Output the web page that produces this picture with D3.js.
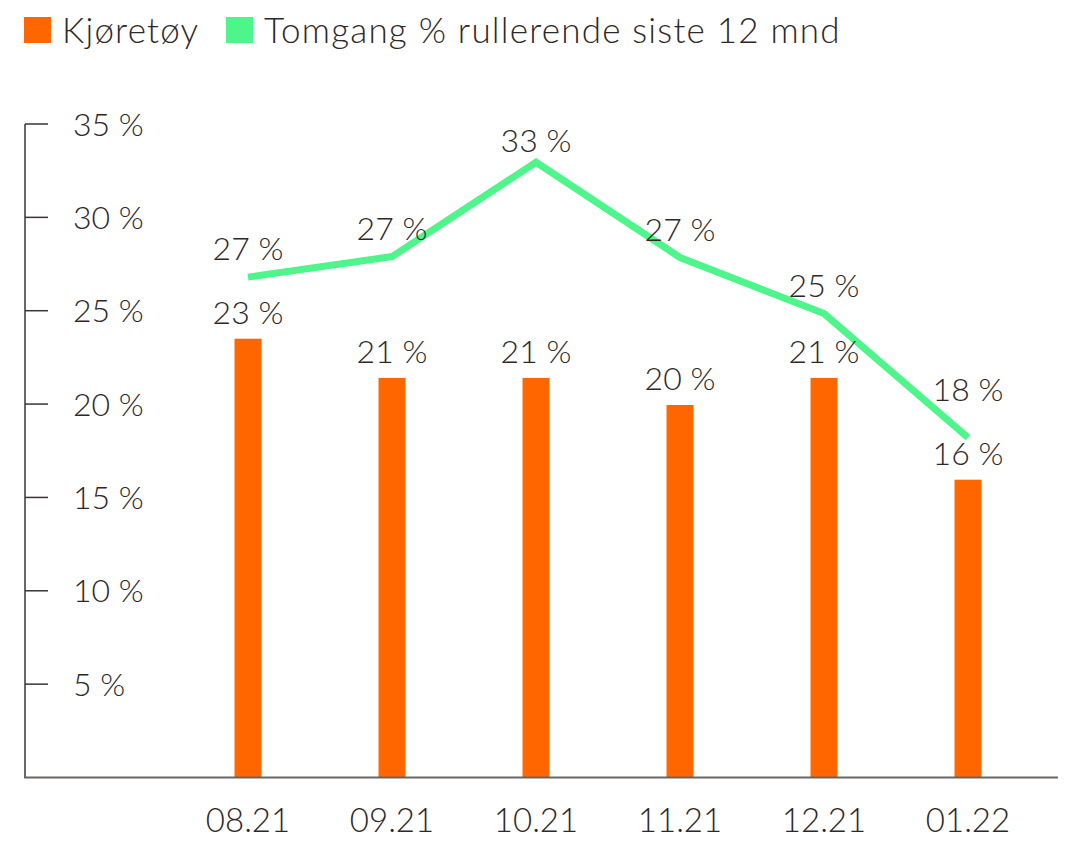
<!DOCTYPE html>
<html>
<head>
<meta charset="utf-8">
<script src="https://cdn.jsdelivr.net/npm/d3@7"></script>
<style>
  body { margin: 0; background: #fff; }
  text { font-family: Lato, "Open Sans", sans-serif; fill: #2d2828; }
</style>
</head>
<body>
<div id="chart"></div>
<script>
// ----- Data -----
const months = ["08.21", "09.21", "10.21", "11.21", "12.21", "01.22"];
const vehicles = [23.5, 21.4, 21.4, 19.95, 21.4, 15.95];
const vehicleLabels = ["23 %", "21 %", "21 %", "20 %", "21 %", "16 %"];
const idle = [26.8, 27.9, 32.95, 27.85, 24.85, 18.2];
const idleLabels = ["27 %", "27 %", "33 %", "27 %", "25 %", "18 %"];
const yTicks = [5, 10, 15, 20, 25, 30, 35];
const seriesNames = ["Kjøretøy", "Tomgang % rullerende siste 12 mnd"];

// ----- Config -----
const width = 1075;
const height = 843;
const orange = "#ff6600";
const green = "#4ef58b";

const svg = d3.select("#chart")
  .append("svg")
  .attr("width", width)
  .attr("height", height);

const x = d3.scalePoint()
  .domain(months)
  .range([248, 968]);

const y = d3.scaleLinear()
  .domain([0, 35])
  .range([777.5, 124]);

// ----- Axes -----
svg.append("line")
  .attr("x1", 25).attr("x2", 25)
  .attr("y1", y(35)).attr("y2", y(0))
  .attr("stroke", "#3a3535").attr("stroke-width", 1.5);

const yTick = svg.selectAll(".ytick")
  .data(yTicks)
  .join("g")
  .attr("class", "ytick")
  .attr("transform", d => `translate(0,${y(d)})`);

yTick.append("line")
  .attr("x1", 25).attr("x2", 48)
  .attr("stroke", "#3a3535").attr("stroke-width", 1.5);

yTick.append("text")
  .attr("x", 73)
  .attr("dy", "0.36em")
  .style("font-size", "32px")
  .style("font-weight", 300)
  .text(d => d + " %");

// ----- Bars -----
const barWidth = 27;
svg.selectAll(".bar")
  .data(vehicles)
  .join("rect")
  .attr("class", "bar")
  .attr("x", (d, i) => x(months[i]) - barWidth / 2)
  .attr("y", d => y(d))
  .attr("width", barWidth)
  .attr("height", d => y(0) - y(d))
  .attr("fill", orange);

svg.append("line")
  .attr("x1", 24).attr("x2", 1058)
  .attr("y1", y(0)).attr("y2", y(0))
  .attr("stroke", "#6a6565").attr("stroke-width", 2);

svg.selectAll(".xlabel")
  .data(months)
  .join("text")
  .attr("class", "xlabel")
  .attr("x", d => x(d))
  .attr("y", 832)
  .attr("text-anchor", "middle")
  .style("font-size", "33px")
  .style("font-weight", 300)
  .text(d => d);

// ----- Line -----
const line = d3.line()
  .x((d, i) => x(months[i]))
  .y(d => y(d));

svg.append("path")
  .datum(idle)
  .attr("d", line)
  .attr("fill", "none")
  .attr("stroke", green)
  .attr("stroke-width", 7);

// ----- Value labels -----
const barLabelY = d => y(d) - 15;

svg.selectAll(".barlabel")
  .data(vehicles)
  .join("text")
  .attr("class", "barlabel")
  .attr("x", (d, i) => x(months[i]))
  .attr("y", barLabelY)
  .attr("text-anchor", "middle")
  .style("font-size", "32px")
  .style("font-weight", 300)
  .text((d, i) => vehicleLabels[i]);

// keep line labels inside the plot and clear of the bar labels below them
svg.selectAll(".linelabel")
  .data(idle)
  .join("text")
  .attr("class", "linelabel")
  .attr("x", (d, i) => x(months[i]))
  .attr("y", (d, i) => Math.max(Math.min(y(d) - 17, barLabelY(vehicles[i]) - 64), 152))
  .attr("text-anchor", "middle")
  .style("font-size", "32px")
  .style("font-weight", 300)
  .text((d, i) => idleLabels[i]);

// ----- Legend -----
const legend = svg.append("g");
const legendX = [24, 226];
const legendColors = [orange, green];

seriesNames.forEach((name, i) => {
  legend.append("rect")
    .attr("x", legendX[i]).attr("y", 17)
    .attr("width", 27).attr("height", 26)
    .attr("fill", legendColors[i]);
  legend.append("text")
    .attr("x", legendX[i] + 38)
    .attr("y", 43)
    .style("font-size", "35px")
    .style("font-weight", 300)
    .style("letter-spacing", "1.2px")
    .text(name);
});
</script>
</body>
</html>
